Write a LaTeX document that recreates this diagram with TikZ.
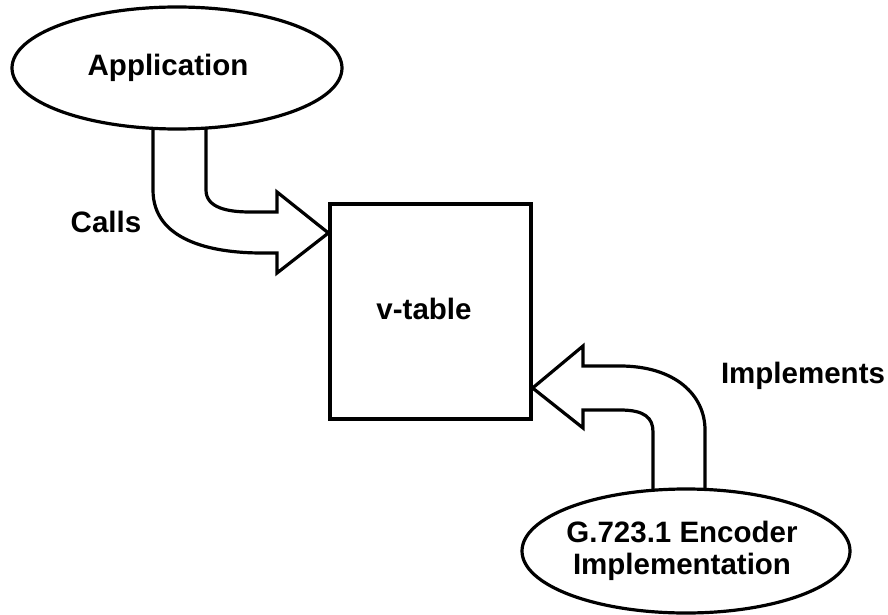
\documentclass[tikz,border=0pt]{standalone}
\usepackage{fontspec}
\setmainfont{Liberation Sans}
\usetikzlibrary{shapes.geometric}
\begin{document}
\begin{tikzpicture}[x=1pt,y=-1pt,
  lw/.style={line width=3.2pt},
  oval/.style={lw,draw=black,fill=white,ellipse,inner sep=0pt},
  boxnode/.style={lw,draw=black,fill=white,inner sep=0pt},
  lbl/.style={font=\bfseries\fontsize{29.5}{32}\selectfont,inner sep=0pt,align=center},
  blockarrow/.style={lw,draw=black,fill=white,line join=miter}]
\useasboundingbox (0,0) rectangle (888,615);
% v-table box
\node[boxnode,minimum width=201pt,minimum height=215pt] (vt) at (430.5,311.5) {};
\node[lbl] (vtl) at (424,309) {v-table};
% Calls block arrow
\draw[blockarrow] (153,100) -- (153,190) .. controls (153,240) and (210,253) .. (262,253) -- (277,253)
  -- (277,273) -- (vt.west |- 0,233) -- (277,192) -- (277,212) -- (250,212)
  .. controls (228,212) and (206,208) .. (206,190) -- (206,100);
% Implements block arrow
\draw[blockarrow] (705,520) -- (705,430) .. controls (705,395) and (675,366) .. (620,366) -- (583,366)
  -- (583,346) -- (vt.east |- 0,388) -- (583,428) -- (583,410) -- (620,410)
  .. controls (645,410) and (653,418) .. (653,432) -- (653,520);
% Ellipses
\node[oval,minimum width=330pt,minimum height=122pt] (app) at (177,68) {};
\node[lbl] (appl) at (168,68) {Application};
\node[oval,minimum width=328pt,minimum height=124pt] (enc) at (686,551) {};
\node[lbl] (encl) at (682,551) {G.723.1 Encoder\\Implementation};
% Labels
\node[lbl] (calls) at (106,222) {Calls};
\node[lbl] (impl) at (803,376) {Implements};
\end{tikzpicture}
\end{document}
